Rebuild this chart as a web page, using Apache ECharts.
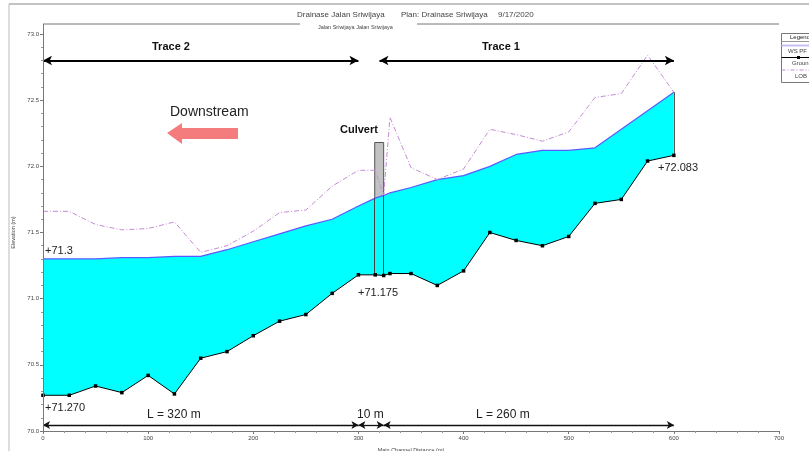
<!DOCTYPE html>
<html>
<head>
<meta charset="utf-8">
<script src="https://cdn.jsdelivr.net/npm/echarts@6/dist/echarts.min.js"></script>
<style>html,body{margin:0;padding:0;background:#fff}#c{width:809px;height:451px}</style>
</head>
<body>
<div id="c"></div>
<script>
// ---- data ----
const stations = [0,25,50,75,100,125,150,175,200,225,250,275,300,316,324,330,350,375,400,425,450,475,500,525,550,575,600];
const ground   = [70.27,70.27,70.34,70.29,70.42,70.28,70.55,70.60,70.72,70.83,70.88,71.04,71.18,71.18,71.175,71.19,71.19,71.10,71.21,71.50,71.44,71.40,71.47,71.72,71.75,72.04,72.083];
const wsPF1    = [71.30,71.30,71.30,71.31,71.31,71.32,71.32,71.37,71.43,71.49,71.55,71.60,71.70,71.76,71.78,71.80,71.84,71.90,71.93,72.00,72.09,72.12,72.12,72.14,72.28,72.42,72.56];
const lob      = [71.66,71.66,71.56,71.52,71.53,71.58,71.35,71.40,71.51,71.65,71.67,71.85,71.97,71.97,71.78,72.37,71.99,71.90,71.98,72.28,72.24,72.19,72.26,72.52,72.55,72.84,72.56];
const culvertX = [315.5, 324];          // culvert faces (m)
const culvertTop = 72.18;               // top of culvert (m)
const traceSpans = [[0,300],[320,600]]; // Trace 2, Trace 1
const lengthSpans = [[0,300],[300,324],[324,600]];
const traceY = 72.8, lengthY = 70.045;
const xTicks = {min:0, max:700, interval:100};
const yTicks = {min:70, max:73, interval:0.5};

const pair = (xs, ys) => xs.map((x,i)=>[x, ys[i]]);
const interp = (arr, x) => { for (let i=0;i<stations.length-1;i++){ if (x>=stations[i]&&x<=stations[i+1]){ const t=(x-stations[i])/(stations[i+1]-stations[i]); return arr[i]+t*(arr[i+1]-arr[i]); } } return arr[0]; };
const wsAt = x => interp(wsPF1, x);
const grAt = x => interp(ground, x);
const lastI = stations.length - 1;

const chart = echarts.init(document.getElementById('c'), null, {renderer:'canvas'});
const FONT = 'Liberation Sans, Arial, sans-serif';
const txt = (x,y,s,size,opts={}) => ({type:'text', x, y, style:{text:s, font:(opts.bold?'bold ':'')+size+'px '+FONT, fill:opts.color||'#222', textAlign:opts.align||'left', textVerticalAlign:'middle'}, z:100});
const line = (x1,y1,x2,y2,color,w) => ({type:'line', shape:{x1,y1,x2,y2}, style:{stroke:color||'#666', lineWidth:w||1}, z:100});

chart.setOption({
  animation:false,
  grid:{left:43, right:30, top:34, bottom:20, containLabel:false, outerBoundsMode:'none'},
  xAxis:{type:'value', min:xTicks.min, max:xTicks.max, interval:xTicks.interval, z:10,
    name:'Main Channel Distance (m)', nameLocation:'middle', nameGap:16,
    nameTextStyle:{fontSize:5.5, color:'#444', fontFamily:FONT},
    axisLine:{lineStyle:{color:'#777', width:1}},
    axisTick:{show:true, length:3, lineStyle:{color:'#777'}},
    minorTick:{show:true, splitNumber:5, length:2, lineStyle:{color:'#999'}},
    axisLabel:{fontSize:6, color:'#444', margin:4, fontFamily:FONT},
    splitLine:{show:false}},
  yAxis:{type:'value', min:yTicks.min, max:yTicks.max, interval:yTicks.interval, z:10,
    name:'Elevation (m)', nameLocation:'middle', nameGap:25, nameRotate:90,
    nameTextStyle:{fontSize:5.5, color:'#444', fontFamily:FONT},
    axisLine:{show:true, lineStyle:{color:'#777', width:1}},
    axisTick:{show:true, length:3, lineStyle:{color:'#777'}},
    minorTick:{show:true, splitNumber:5, length:2, lineStyle:{color:'#999'}},
    axisLabel:{fontSize:6, color:'#444', margin:4, fontFamily:FONT, formatter:v=>v.toFixed(1)},
    splitLine:{show:false}},
  series:[
    {name:'Water', type:'custom', z:2, data:[0],
     renderItem:(params, api) => {
       const pts = stations.map((x,i)=>api.coord([x, wsPF1[i]]))
         .concat(stations.map((x,i)=>api.coord([x, ground[i]])).reverse());
       return {type:'polygon', shape:{points:pts}, style:{fill:'#00ffff'}};
     }},
    {name:'WS PF 1', type:'line', data:pair(stations, wsPF1), symbol:'none', z:3,
     lineStyle:{color:'#5a5aff', width:1.2},
     markLine:{silent:true, symbol:'none', label:{show:false}, lineStyle:{color:'#555', width:1, type:'solid'},
       data:[[{coord:[stations[lastI], ground[lastI]]},{coord:[stations[lastI], wsPF1[lastI]]}]]}},
    {name:'LOB', type:'line', data:pair(stations, lob), symbol:'none', z:4,
     lineStyle:{color:'#c58ad6', width:1, type:[5,2,1,2]}},
    {name:'Culvert', type:'line', data:[], z:5,
     markArea:{silent:true, itemStyle:{color:'#c2c2c2', borderColor:'#555', borderWidth:1},
       data:[[{coord:[culvertX[0], culvertTop]},{coord:[culvertX[1], wsAt(culvertX[0])]}]]},
     markLine:{silent:true, symbol:'none', label:{show:false}, lineStyle:{color:'#444', width:1, type:'solid'},
       data:culvertX.map(x=>[{coord:[x, grAt(x)]},{coord:[x, wsAt(x)]}])}},
    {name:'Ground', type:'line', data:pair(stations, ground), z:6,
     symbol:'rect', symbolSize:3.5, itemStyle:{color:'#000'}, lineStyle:{color:'#000', width:1}},
    {name:'Spans', type:'line', data:[], z:7,
     markLine:{silent:true, symbol:['arrow','arrow'], label:{show:false},
       data:[
         ...traceSpans.map(s=>[{coord:[s[0],traceY], symbolSize:[7,9], lineStyle:{color:'#000', width:2, type:'solid'}},{coord:[s[1],traceY], symbolSize:[7,9]}]),
         ...lengthSpans.map(s=>[{coord:[s[0],lengthY], symbolSize:[6,7], lineStyle:{color:'#111', width:1.3, type:'solid'}},{coord:[s[1],lengthY], symbolSize:[6,7]}])
       ]}}
  ],
  graphic:[
    // frame
    line(9,4,809,4,'#888',1),
    line(9,4,9,451,'#bbb',1),
    // title
    txt(297,15,'Drainase Jalan Sriwijaya',8,{color:'#444'}),
    txt(401,15,'Plan: Drainase Sriwijaya',8,{color:'#444'}),
    txt(498,15,'9/17/2020',8,{color:'#444'}),
    txt(318,27,'Jalan Sriwijaya Jalan Sriwijaya',5.5,{color:'#444'}),
    line(43,24,300,24,'#777',1),
    line(417,24,779,24,'#777',1),
    line(43.5,24,43.5,34,'#777',1),
    // legend
    {type:'rect', shape:{x:781.5,y:33.5,width:40,height:49}, style:{fill:'#fff', stroke:'#777', lineWidth:1}, z:100},
    line(781.5,41.5,809,41.5,'#999',1),
    txt(790,37.5,'Legend',6,{color:'#222'}),
    line(781.5,45.5,809,45.5,'#c8bdf5',2),
    txt(788,51.5,'WS PF 1',6,{color:'#444'}),
    line(781.5,57.5,809,57.5,'#000',1),
    {type:'rect', shape:{x:797,y:56,width:3,height:3}, style:{fill:'#000'}, z:101},
    txt(792,63.5,'Ground',6,{color:'#444'}),
    {type:'line', shape:{x1:781.5,y1:70,x2:809,y2:70}, style:{stroke:'#c58ad6', lineWidth:1, lineDash:[4,2,1,2]}, z:100},
    txt(795,76,'LOB',6,{color:'#444'}),
    // annotations
    txt(152,47,'Trace 2',11,{bold:true,color:'#111'}),
    txt(482,47,'Trace 1',11,{bold:true,color:'#111'}),
    txt(170,112,'Downstream',14,{color:'#222'}),
    {type:'polygon', shape:{points:[[167,133],[182,123],[182,128],[238,128],[238,139],[182,139],[182,144]]}, style:{fill:'#f47c7c'}, z:100},
    txt(340,130,'Culvert',11,{bold:true,color:'#111'}),
    txt(45,251,'+71.3',11,{color:'#222'}),
    txt(358,293,'+71.175',11,{color:'#222'}),
    txt(658,168,'+72.083',11,{color:'#222'}),
    txt(45,408,'+71.270',11,{color:'#222'}),
    txt(147,415,'L = 320 m',12,{color:'#222'}),
    txt(357,415,'10 m',12,{color:'#222'}),
    txt(476,415,'L = 260 m',12,{color:'#222'})
  ]
});
</script>
</body>
</html>
